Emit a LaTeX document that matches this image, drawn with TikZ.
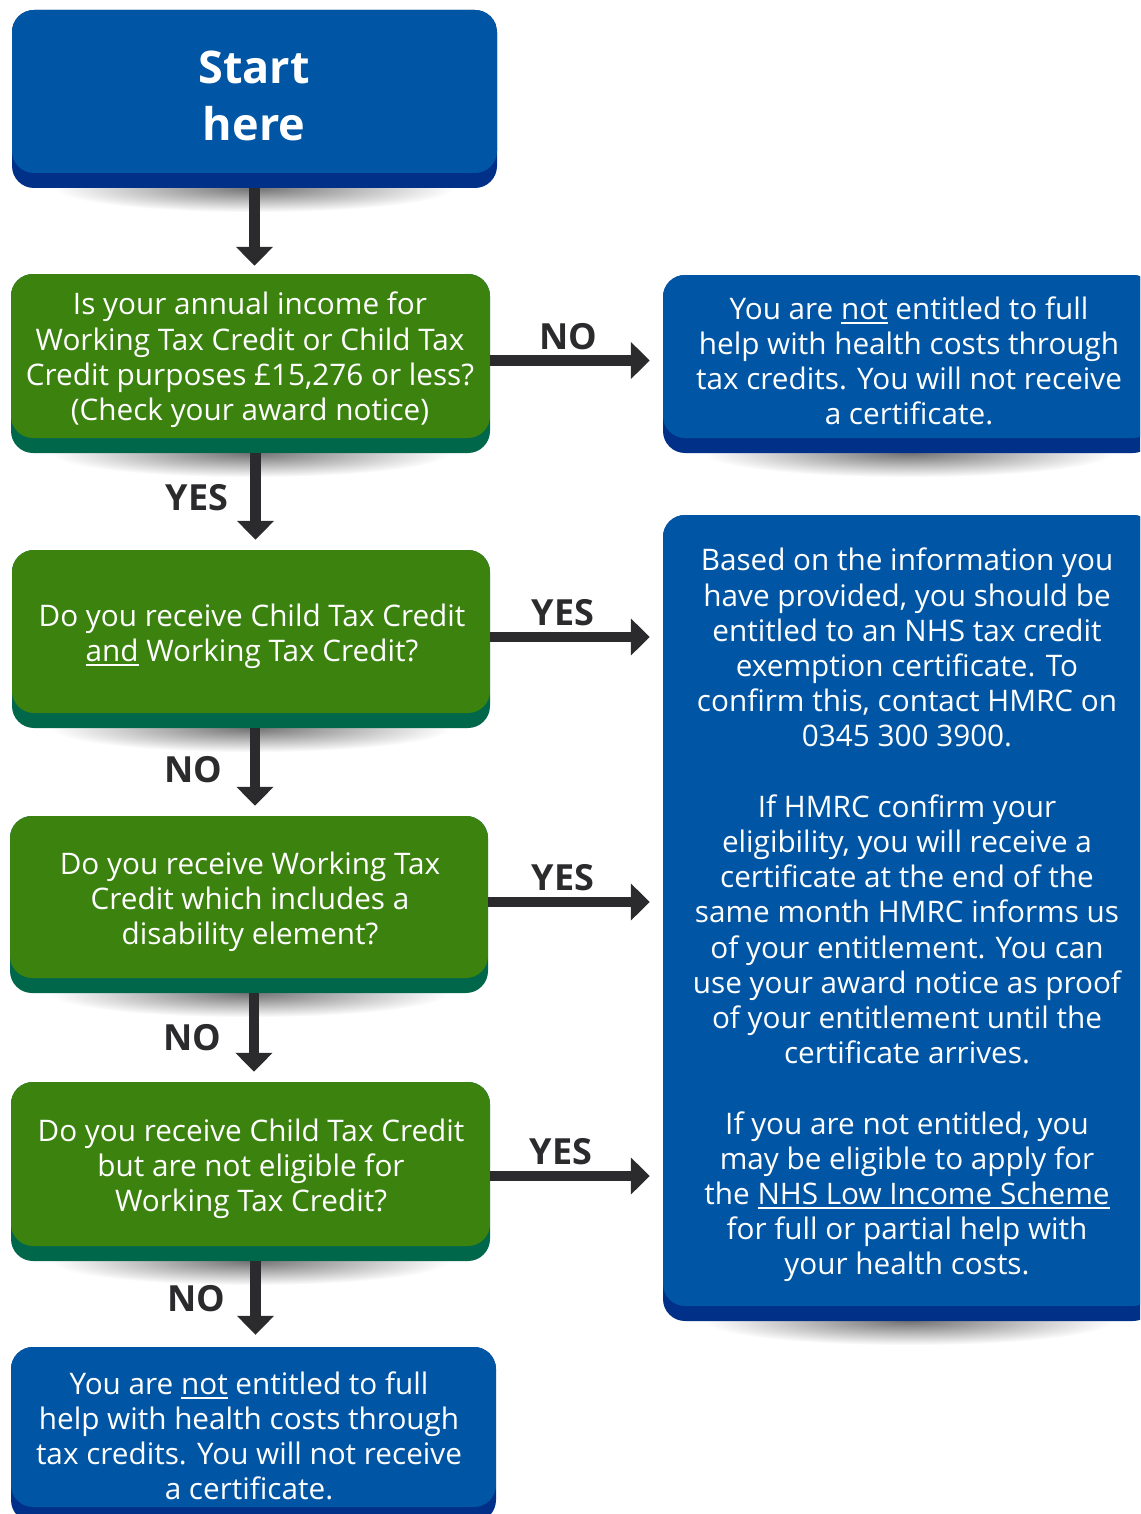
\documentclass[tikz,border=0pt]{standalone}
\usepackage{fontspec}
\setmainfont{Open Sans}
\usetikzlibrary{arrows.meta,backgrounds}
\definecolor{boxblue}{HTML}{0055A4}
\definecolor{boxbluedark}{HTML}{003087}
\definecolor{boxgreen}{HTML}{3B820F}
\definecolor{boxgreendark}{HTML}{00674A}
\definecolor{arrowgray}{HTML}{2B2B2D}
\newcommand\myul[1]{\sbox0{#1}\rlap{\rule[-4.5pt]{\wd0}{1.6pt}}\usebox0}
\tikzset{
  panel/.style 2 args={fill=#2, rounded corners=22pt, inner sep=0pt,
    path picture={\fill[#1, rounded corners=22pt]
      (path picture bounding box.north west) rectangle
      ([yshift=15pt]path picture bounding box.south east);}},
  bluepanel/.style={panel={boxblue}{boxbluedark}},
  greenpanel/.style={panel={boxgreen}{boxgreendark}},
  bodytext/.style={text=white, align=center, inner sep=0pt,
    font=\fontsize{29.7}{35.2}\selectfont},
  starttext/.style={text=white, align=center, inner sep=0pt,
    font=\bfseries\fontsize{45}{57}\selectfont},
  lbl/.style={text=arrowgray, inner sep=0pt,
    font=\bfseries\fontsize{36}{40}\selectfont},
  arr/.style={draw=arrowgray, line width=10.5pt,
    -{Triangle[width=36pt,length=19pt]}},
  boxshadow/.style={inner color=black!55, outer color=white}
}
\begin{document}
\begin{tikzpicture}[x=1pt,y=1pt]
\useasboundingbox (0,0) rectangle (1140,-1514);
\clip (0,0) rectangle (1140,-1514);
% boxes
\node[bluepanel, minimum width=485pt, minimum height=178pt] (start) at (254.5,-99) {};
\node[greenpanel, minimum width=479pt, minimum height=179pt] (q1) at (250.5,-363.5) {};
\node[greenpanel, minimum width=478pt, minimum height=178pt] (q2) at (251,-639) {};
\node[greenpanel, minimum width=478pt, minimum height=177pt] (q3) at (249,-904.5) {};
\node[greenpanel, minimum width=479pt, minimum height=179pt] (q4) at (250.5,-1171.5) {};
\node[bluepanel, minimum width=485pt, minimum height=175pt] (bot) at (253.5,-1434.5) {};
\node[bluepanel, minimum width=492pt, minimum height=178pt] (r1) at (909,-364) {};
\node[bluepanel, minimum width=492pt, minimum height=806pt] (r2) at (909,-918) {};
% shadows
\begin{scope}[on background layer]
  \foreach \b/\rx in {start/200,q1/200,q2/200,q3/200,q4/200,r1/205,r2/205}
    \shade[boxshadow] (\b.south) ellipse [x radius=\rx pt, y radius=24pt];
\end{scope}
% texts
\node[starttext] (tstart) at (254,-96) {Start\\here};
\node[bodytext] (tq1) at (250,-360) {Is your annual income for\\Working Tax Credit or Child Tax\\Credit purposes £15,276 or less?\\(Check your award notice)};
\node[bodytext] (tq2) at (252,-636) {Do you receive Child Tax Credit\\\myul{and} Working Tax Credit?};
\node[bodytext] (tq3) at (250,-902) {Do you receive Working Tax\\Credit which includes a\\disability element?};
\node[bodytext] (tq4) at (251,-1169) {Do you receive Child Tax Credit\\but are not eligible for\\Working Tax Credit?};
\node[bodytext] (tbot) at (249,-1436) {You are \myul{not} entitled to full\\help with health costs through\\tax credits. You will not receive\\a certificate.};
\node[bodytext] (tr1) at (909,-361) {You are \myul{not} entitled to full\\help with health costs through\\tax credits. You will not receive\\a certificate.};
\node[bodytext] (tr2) at (907,-915) {Based on the information you\\have provided, you should be\\entitled to an NHS tax credit\\exemption certificate. To\\confirm this, contact HMRC on\\0345 300 3900.\\[35.2pt]If HMRC confirm your\\eligibility, you will receive a\\certificate at the end of the\\same month HMRC informs us\\of your entitlement. You can\\use your award notice as proof\\of your entitlement until the\\certificate arrives.\\[35.2pt]If you are not entitled, you\\may be eligible to apply for\\the \myul{NHS Low Income Scheme}\\for full or partial help with\\your health costs.};
% connectors
\draw[arr, shorten >=8pt] (start.south) -- (start.south |- q1.north);
\draw[arr, shorten >=10pt] ([xshift=5pt]q1.south) -- ([xshift=5pt]q1.south |- q2.north);
\draw[arr, shorten >=10pt] ([xshift=4pt]q2.south) -- ([xshift=4pt]q2.south |- q3.north);
\draw[arr, shorten >=10pt] ([xshift=5pt]q3.south) -- ([xshift=5pt]q3.south |- q4.north);
\draw[arr, shorten >=12pt] ([xshift=5pt]q4.south) -- ([xshift=5pt]q4.south |- bot.north);
\draw[arr, shorten >=13pt] ([yshift=3pt]q1.east) -- ([yshift=3pt]q1.east -| r1.west);
\draw[arr, shorten >=13pt] ([yshift=2pt]q2.east) -- ([yshift=2pt]q2.east -| r2.west);
\draw[arr, shorten >=13pt] ([yshift=2.5pt]q3.east) -- ([yshift=2.5pt]q3.east -| r2.west);
\draw[arr, shorten >=13pt] ([yshift=-4.5pt]q4.east) -- ([yshift=-4.5pt]q4.east -| r2.west);
% labels
\node[lbl] (l1) at (568,-337) {NO};
\node[lbl] (l2) at (197,-498) {YES};
\node[lbl] (l3) at (563,-613) {YES};
\node[lbl] (l4) at (193,-770) {NO};
\node[lbl] (l5) at (563,-878) {YES};
\node[lbl] (l6) at (192,-1038) {NO};
\node[lbl] (l7) at (561,-1152) {YES};
\node[lbl] (l8) at (196,-1299) {NO};
\end{tikzpicture}
\end{document}
